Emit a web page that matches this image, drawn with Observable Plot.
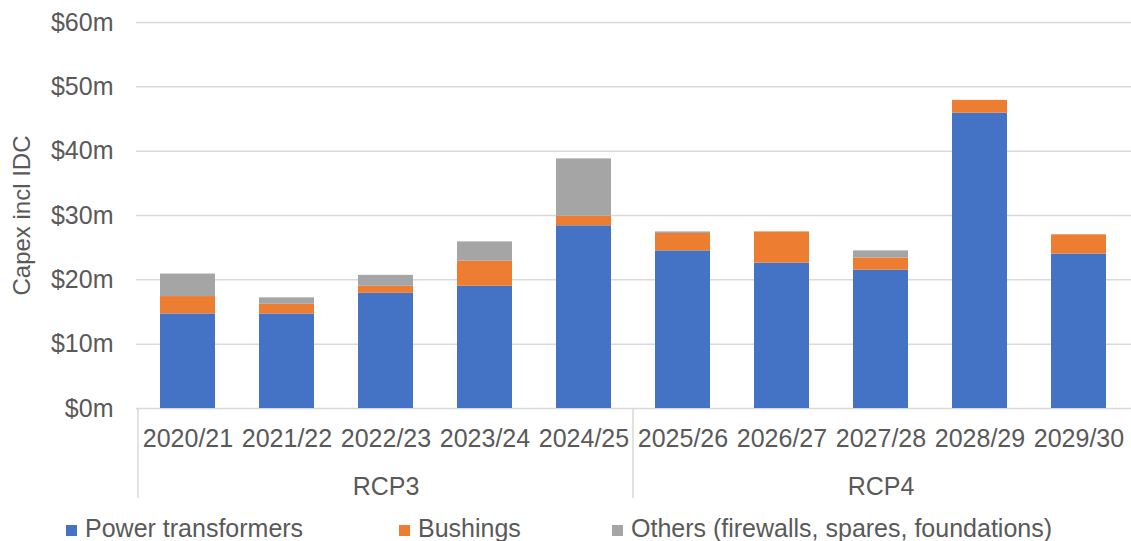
<!DOCTYPE html>
<html>
<head>
<meta charset="utf-8">
<script src="https://cdn.jsdelivr.net/npm/d3@7"></script>
<script src="https://cdn.jsdelivr.net/npm/@observablehq/plot@0.6"></script>
<style>
  html, body { margin: 0; padding: 0; background: #fff; }
  #wrap { width: 1131px; font-family: "Liberation Sans", Arial, sans-serif; color: #595959; }
  #legend { position: relative; height: 36px; margin-top: 9px; font-size: 25px; line-height: 28px; }
  .item { position: absolute; top: 0; white-space: nowrap; }
  .sw { display: inline-block; width: 11px; height: 11px; margin-right: 8px; vertical-align: 1px; }
</style>
</head>
<body>
<div id="wrap"></div>
<script>
const years = ["2020/21","2021/22","2022/23","2023/24","2024/25","2025/26","2026/27","2027/28","2028/29","2029/30"];
const periods = ["RCP3","RCP3","RCP3","RCP3","RCP3","RCP4","RCP4","RCP4","RCP4","RCP4"];
const seriesNames = ["Power transformers","Bushings","Others (firewalls, spares, foundations)"];
const powerTransformers = [14.7, 14.7, 17.9, 19.0, 28.4, 24.5, 22.6, 21.5, 45.9, 24.0];
const bushings          = [2.7, 1.5, 1.1, 3.9, 1.5, 2.7, 4.85, 1.9, 2.0, 3.0];
const others            = [3.5, 1.0, 1.7, 3.0, 8.9, 0.25, 0, 1.1, 0, 0];
const yTicks = [0, 10, 20, 30, 40, 50, 60];
const colors = ["#4472C4", "#ED7D31", "#A5A5A5"];
const gridColor = "#d9d9d9";

const seriesValues = [powerTransformers, bushings, others];
const data = [];
seriesNames.forEach((s, si) => years.forEach((y, i) => data.push({series: s, year: y, value: seriesValues[si][i]})));

const groupNames = [...new Set(periods)];
const groupYears = groupNames.map(g => years.filter((y, i) => periods[i] === g));
const groupMiddle = groupYears.map(ys => ys[Math.floor(ys.length / 2)]);
const groupFirst = groupYears.map(ys => ys[0]);

function dividers(...args) {
  const scales = args.find(a => a && typeof a.x === "function");
  const dims = args.find(a => a && typeof a.marginBottom === "number");
  const sx = scales.x;
  const step = sx(years[1]) - sx(years[0]);
  const bw = typeof sx.bandwidth === "function" ? sx.bandwidth() : 0;
  const y0 = dims.height - dims.marginBottom;
  const g = d3.create("svg:g").attr("stroke", gridColor).attr("stroke-width", 1.5);
  for (const f of groupFirst) {
    const x = sx(f) + bw / 2 - step / 2;
    g.append("line").attr("x1", x).attr("x2", x).attr("y1", y0).attr("y2", y0 + 90);
  }
  return g.node();
}

const plot = Plot.plot({
  width: 1131,
  height: 505,
  marginLeft: 136,
  marginRight: 0,
  marginTop: 22,
  marginBottom: 97,
  style: {fontFamily: "'Liberation Sans', Arial, sans-serif", fontSize: "25px", color: "#595959", background: "#fff"},
  x: {domain: years, paddingInner: 0.44, paddingOuter: 0.22},
  y: {domain: [0, 60]},
  color: {domain: seriesNames, range: colors},
  marks: [
    Plot.gridY(yTicks, {stroke: gridColor, strokeOpacity: 1, strokeWidth: 1.5}),
    Plot.barY(data, {x: "year", y: "value", fill: "series", order: seriesNames}),
    Plot.axisY(yTicks, {tickSize: 0, tickPadding: 23, tickFormat: d => `$${d}m`, label: null, fontSize: 25}),
    Plot.axisX({tickSize: 0, tickPadding: 21, label: null, fontSize: 25}),
    Plot.axisX(groupMiddle, {tickSize: 0, tickPadding: 69, label: null, fontSize: 25,
      tickFormat: d => groupNames[groupMiddle.indexOf(d)]}),
    Plot.text(["Capex incl IDC"], {text: d => d, frameAnchor: "left", dx: -114, rotate: -90,
      textAnchor: "middle", lineAnchor: "middle", fontSize: 24}),
    dividers
  ]
});

const wrap = document.getElementById("wrap");
wrap.appendChild(plot);
const legend = document.createElement("div");
legend.id = "legend";
const legendLeft = [66, 399, 612];
seriesNames.forEach((s, i) => {
  const it = document.createElement("span");
  it.className = "item";
  it.style.left = legendLeft[i] + "px";
  const sw = document.createElement("span");
  sw.className = "sw";
  sw.style.background = colors[i];
  it.appendChild(sw);
  it.appendChild(document.createTextNode(s));
  legend.appendChild(it);
});
wrap.appendChild(legend);
</script>
</body>
</html>
